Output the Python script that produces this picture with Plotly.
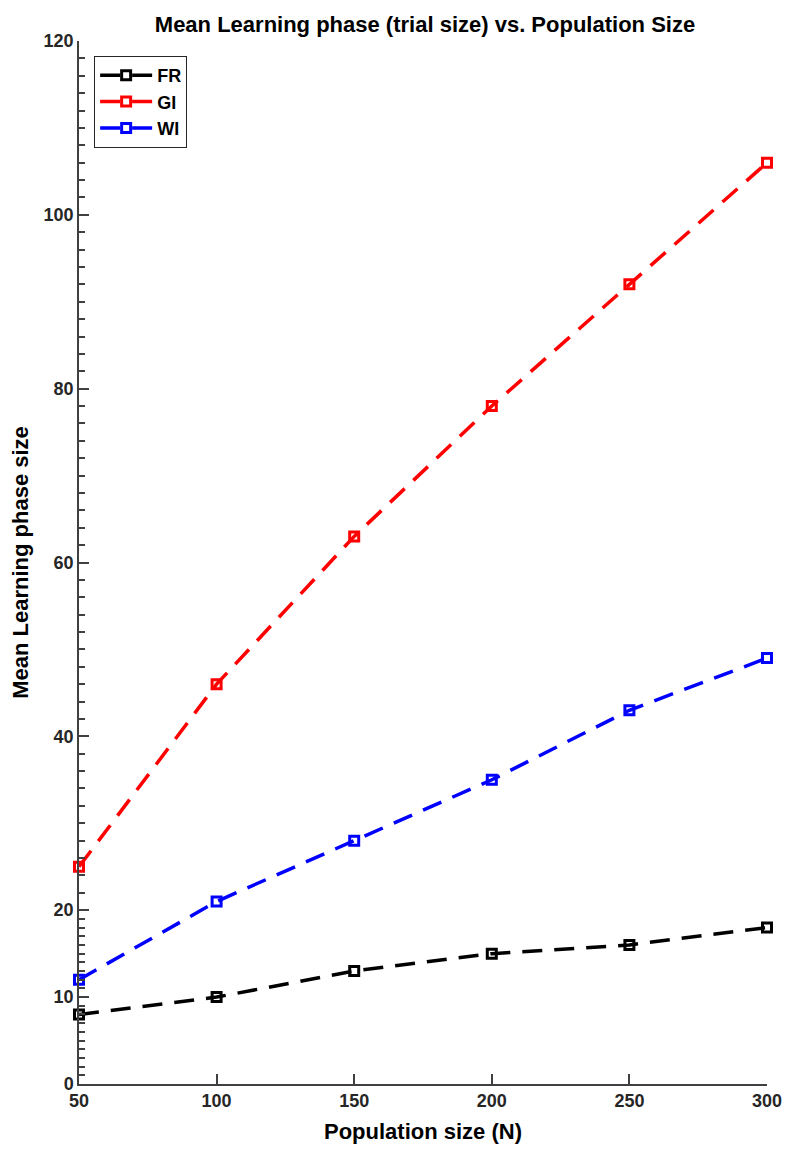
import plotly.graph_objects as go

population = [50, 100, 150, 200, 250, 300]
fr_values = [8, 10, 13, 15, 16, 18]
gi_values = [25, 46, 63, 78, 92, 106]
wi_values = [12, 21, 28, 35, 43, 49]
y_tick_vals = [0, 10, 20, 40, 60, 80, 100, 120]
x_tick_vals = [50, 100, 150, 200, 250, 300]

series = [("FR", fr_values, "#000000"), ("GI", gi_values, "#ff0000"), ("WI", wi_values, "#0000ff")]

fig = go.Figure()
for name, vals, col in series:
    fig.add_trace(go.Scatter(
        x=population, y=vals, name=name, mode="lines+markers",
        line=dict(color=col, width=3.5, dash="20px,12px"),
        marker=dict(symbol="square-open", size=9, color=col, line=dict(width=3, color=col)),
        cliponaxis=False,
    ))

minor_vals = [v for v in range(1, 20) if v != 10] + [v for v in range(22, 120, 2) if v % 20 != 0]

font_fam = "Liberation Sans, Arial, sans-serif"
fig.update_layout(
    width=792, height=1143,
    paper_bgcolor="white", plot_bgcolor="white",
    margin=dict(l=71, r=33, t=33, b=67, autoexpand=False),
    title=dict(text="Mean Learning phase (trial size) vs. Population Size",
               x=0.5265, xanchor="center", y=0.986, yanchor="middle",
               font=dict(family=font_fam, size=22, color="#000000", weight="bold")),
    font=dict(family=font_fam, color="#262626"),
    showlegend=True,
    legend=dict(x=0.022, y=0.9856, xanchor="left", yanchor="top",
                bordercolor="#262626", borderwidth=1, bgcolor="white",
                font=dict(family=font_fam, size=18, color="#000000", weight="bold"),
                itemwidth=52, tracegroupgap=0),
    xaxis=dict(range=[50, 300], tickmode="array", tickvals=x_tick_vals,
               ticks="inside", ticklen=10, tickwidth=1.5, tickcolor="#404040",
               showline=True, linecolor="#404040", linewidth=1.5,
               showgrid=False, zeroline=False, automargin=False,
               tickfont=dict(family=font_fam, size=18, color="#262626", weight="bold"),
               title=dict(text="Population size (N)", standoff=13,
                          font=dict(family=font_fam, size=22, color="#000000", weight="bold"))),
    yaxis=dict(range=[0, 120], tickmode="array", tickvals=y_tick_vals,
               ticks="inside", ticklen=10, tickwidth=1.5, tickcolor="#404040",
               showline=True, linecolor="#404040", linewidth=1.5,
               showgrid=False, zeroline=False, automargin=False,
               minor=dict(tickmode="array", tickvals=minor_vals, ticks="inside",
                          ticklen=6, tickwidth=1.5, tickcolor="#404040", showgrid=False),
               tickfont=dict(family=font_fam, size=18, color="#262626", weight="bold"),
               title=dict(text="Mean Learning phase size", standoff=10,
                          font=dict(family=font_fam, size=22, color="#000000", weight="bold"))),
)

fig.write_html("out.html")
